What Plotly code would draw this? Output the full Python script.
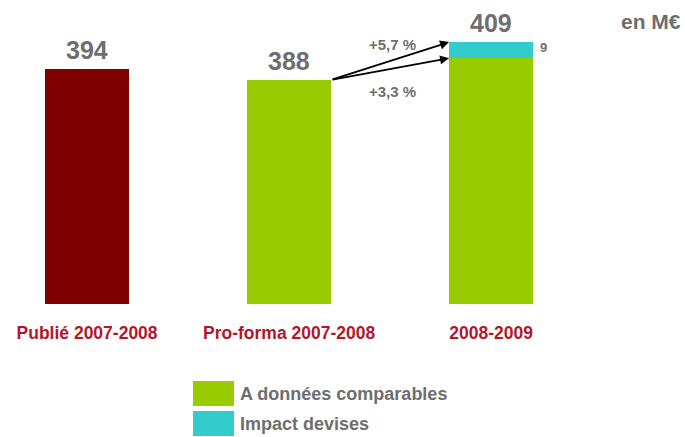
import plotly.graph_objects as go

categories = ["Publié 2007-2008", "Pro-forma 2007-2008", "2008-2009"]
publie = [394, None, None]
comparables = [None, 388, 400]
devises = [None, None, 9]
growth_labels = ["+5,7 %", "+3,3 %"]
legend_names = ["A données comparables", "Impact devises"]
unit_label = "en M€"

totals = [sum(v for v in (a, b, c) if v is not None) for a, b, c in zip(publie, comparables, devises)]

RED = "#800000"
GREEN = "#99CC00"
CYAN = "#33CCCC"
GRAY = "#6E6E6E"
LABEL_RED = "#B5152B"
FONT = "Liberation Sans, Arial, sans-serif"
BW = 0.416
xs = list(range(len(categories)))

fig = go.Figure()
fig.add_bar(x=xs, y=publie, marker_color=RED, marker_line_width=0, width=BW, name="Publié", showlegend=False)
fig.add_bar(x=xs, y=comparables, marker_color=GREEN, marker_line_width=0, width=BW, name=legend_names[0], showlegend=False)
fig.add_bar(x=xs, y=devises, marker_color=CYAN, marker_line_width=0, width=BW, name=legend_names[1], showlegend=False)

ann = []
for x, t in zip(xs, totals):
    ann.append(dict(x=x, y=t, xref="x", yref="y", text=f"<b>{t}</b>", showarrow=False,
                    yanchor="middle", yshift=19, font=dict(family=FONT, size=25, color=GRAY)))

# segment label for currency impact
ann.append(dict(x=2 + BW / 2, y=comparables[2] + devises[2], xref="x", yref="y",
                text=f"<b>{devises[2]}</b>", showarrow=False, xanchor="left", yanchor="top",
                xshift=5, yshift=4, font=dict(family=FONT, size=13, color=GRAY)))

# arrows from pro-forma to 2008-2009
x0 = 1 + BW / 2
x1 = 2 - BW / 2
for target in (totals[2], comparables[2]):
    ann.append(dict(x=x1, y=target, ax=x0, ay=comparables[1], xref="x", yref="y",
                    axref="x", ayref="y", text="", showarrow=True, arrowhead=2,
                    arrowsize=1, arrowwidth=1.8, arrowcolor="black", standoff=0, startstandoff=0))

ann.append(dict(x=1.51, y=407.5, xref="x", yref="y", text=f"<b>{growth_labels[0]}</b>",
                showarrow=False, font=dict(family=FONT, size=15, color=GRAY)))
ann.append(dict(x=1.51, y=381.5, xref="x", yref="y", text=f"<b>{growth_labels[1]}</b>",
                showarrow=False, font=dict(family=FONT, size=15, color=GRAY)))

ann.append(dict(x=1.0, y=1.0, xref="paper", yref="paper", text=f"<b>{unit_label}</b>",
                showarrow=False, xanchor="right", yanchor="middle", xshift=-2, yshift=-1,
                font=dict(family=FONT, size=21, color=GRAY)))

# legend (drawn)
shapes = []
leg_colors = [GREEN, CYAN]
leg_tops = [381, 411]
for col, top, name in zip(leg_colors, leg_tops, legend_names):
    y_top = (304 - top) / 284
    y_bot = (304 - top - 25) / 284
    shapes.append(dict(type="rect", xref="paper", yref="paper", x0=193 / 685, x1=234 / 685,
                       y0=y_bot, y1=y_top, fillcolor=col, line=dict(width=0)))
    ann.append(dict(x=238 / 685, y=(y_top + y_bot) / 2, xref="paper", yref="paper",
                    text=f"<b>{name}</b>", showarrow=False, xanchor="left", yanchor="middle",
                    font=dict(family=FONT, size=18, color=GRAY)))

fig.update_layout(
    width=685, height=437,
    margin=dict(l=0, r=0, t=20, b=133),
    barmode="stack",
    plot_bgcolor="white", paper_bgcolor="white",
    annotations=ann, shapes=shapes,
    xaxis=dict(range=[-0.431, 2.96], tickvals=xs,
               ticktext=[f"<b>{c}</b>" for c in categories],
               tickfont=dict(family=FONT, size=17.5, color=LABEL_RED),
               showgrid=False, zeroline=False, showline=False,
               ticks="outside", ticklen=13, tickcolor="rgba(0,0,0,0)"),
    yaxis=dict(range=[263.5, 263.5 + 284 / 1.8], visible=False, showgrid=False, zeroline=False),
)

fig.write_html("out.html", config={"displayModeBar": False},
               post_script="document.body.style.margin='0';document.body.style.overflow='hidden';")
